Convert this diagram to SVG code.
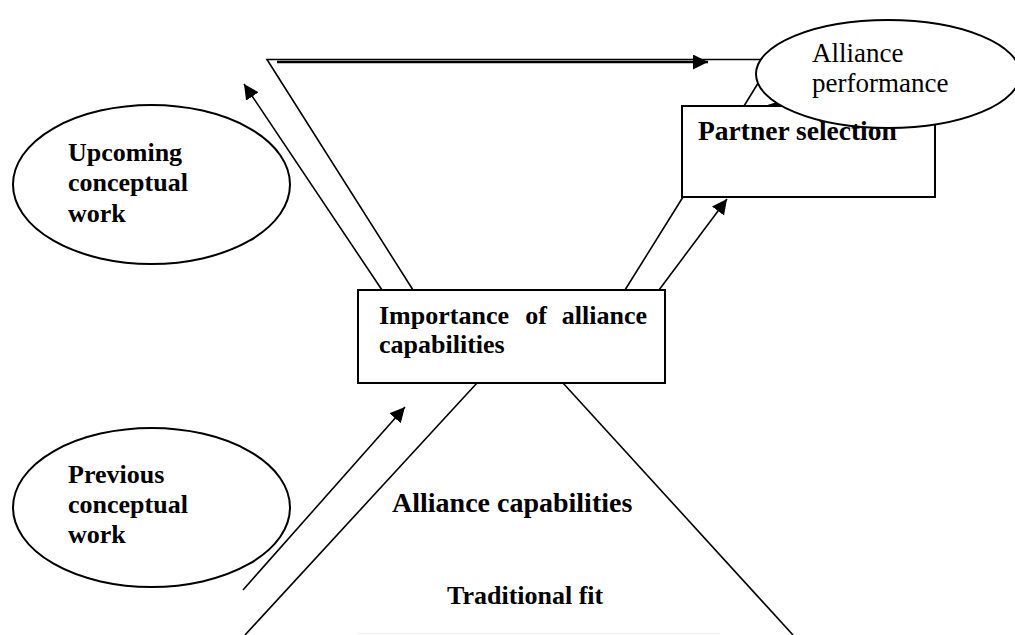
<svg xmlns="http://www.w3.org/2000/svg" width="1015" height="635" viewBox="0 0 1015 635">
  <style>
    .ln { fill: none; stroke: #000; stroke-width: 1.6; }
    .shape { fill: #fff; stroke: #000; stroke-width: 2; }
    .b { font-family: "Liberation Serif", "Times New Roman", serif; font-weight: bold; fill: #000; }
    .r { font-family: "Liberation Serif", "Times New Roman", serif; fill: #000; }
  </style>
  <defs>
    <marker id="ah" markerUnits="userSpaceOnUse" markerWidth="16" markerHeight="16" refX="15" refY="7.5" orient="auto">
      <path d="M0,0 L15,7.5 L0,15 Z" fill="#000"/>
    </marker>
  </defs>
  <rect width="1015" height="635" fill="#fff"/>
  <g id="connectors">
    <polyline class="ln" points="413,290 267,59.5 760,59.5"/>
    <line x1="277" y1="62" x2="708" y2="62" stroke="#000" stroke-width="2.6" marker-end="url(#ah)"/>
    <line class="ln" x1="382" y1="290" x2="244" y2="84" marker-end="url(#ah)"/>
    <line class="ln" x1="625" y1="290" x2="683" y2="197"/>
    <line class="ln" x1="659" y1="290" x2="727" y2="199" marker-end="url(#ah)"/>
    <line class="ln" x1="744" y1="106" x2="760" y2="80"/>
    <line class="ln" x1="765" y1="118" x2="784" y2="100" marker-end="url(#ah)"/>
    <line class="ln" x1="243" y1="590" x2="405" y2="407" marker-end="url(#ah)"/>
    <line class="ln" x1="477" y1="383" x2="245" y2="635"/>
    <line class="ln" x1="563" y1="383" x2="793" y2="635"/>
    <line x1="357" y1="633.5" x2="720" y2="633.5" stroke="#eeeeee" stroke-width="1"/>
  </g>
  <g id="upcoming">
    <ellipse class="shape" cx="151.5" cy="184.5" rx="138.5" ry="79.5"/>
    <text class="b" font-size="26" x="68" y="161">Upcoming</text>
    <text class="b" font-size="26" x="68" y="191">conceptual</text>
    <text class="b" font-size="26" x="68" y="222">work</text>
  </g>
  <g id="previous">
    <ellipse class="shape" cx="151.5" cy="507.5" rx="138.5" ry="79.5"/>
    <text class="b" font-size="26" x="68" y="483">Previous</text>
    <text class="b" font-size="26" x="68" y="513">conceptual</text>
    <text class="b" font-size="26" x="68" y="543">work</text>
  </g>
  <g id="importance">
    <rect class="shape" x="358" y="290" width="307" height="93"/>
    <text class="b" font-size="26" x="379" y="324">Importance</text>
    <text class="b" font-size="26" x="536" y="324" text-anchor="middle">of</text>
    <text class="b" font-size="26" x="647" y="324" text-anchor="end">alliance</text>
    <text class="b" font-size="26" x="379" y="353">capabilities</text>
  </g>
  <g id="partner">
    <rect class="shape" x="682" y="106" width="253" height="91"/>
  </g>
  <g id="performance">
    <ellipse class="shape" cx="888" cy="74" rx="132" ry="54"/>
    <text class="r" font-size="27" x="812" y="62">Alliance</text>
    <text class="r" font-size="27" x="812" y="92">performance</text>
  </g>
  <g id="partner-label">
    <text class="b" font-size="27.5" x="698" y="140">Partner selection</text>
  </g>
  <g id="capabilities">
    <text class="b" font-size="28" x="392" y="512">Alliance capabilities</text>
  </g>
  <g id="traditional">
    <text class="b" font-size="26" x="447" y="604">Traditional fit</text>
  </g>
</svg>
